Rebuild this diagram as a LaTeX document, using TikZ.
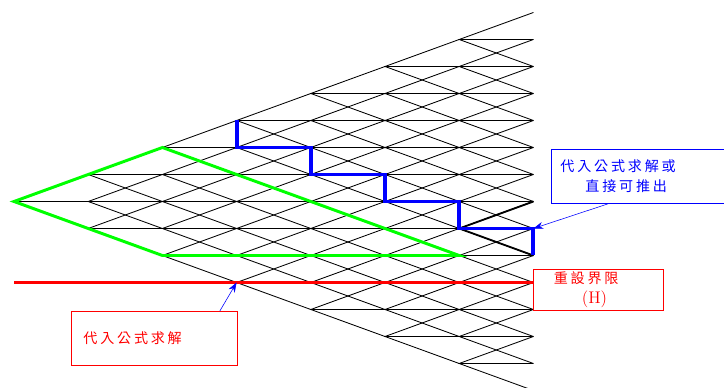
\documentclass[tikz,border=0pt]{standalone}
\usepackage{fontspec}
\newfontfamily\cjk[LetterSpace=20]{Noto Sans CJK TC}
\usetikzlibrary{arrows.meta}
\begin{document}
\begin{tikzpicture}[>={Stealth[length=7pt,width=5pt]}, x=1.855cm, y=0.675cm,
	tree/.style={line width=0.6pt},
	bold/.style={line width=1.3pt},
	region/.style={line width=2.1pt, green},
	limit/.style={line width=2.6pt, red},
	path/.style={line width=2.8pt, blue},
	note/.style={draw, line width=0.6pt, align=left, inner ysep=0pt, font=\cjk\fontsize{10}{14.2}\selectfont}]
	\useasboundingbox (-0.1887,-6.907) rectangle (9.5687,7.463);
	% lattice points
	\foreach \i in {0,...,7} {
		\pgfmathtruncatemacro\lo{7-\i}
		\pgfmathtruncatemacro\hi{7+\i}
		\foreach \r in {\lo,...,\hi}
			\coordinate (n\i-\r) at (\i,7-\r);
	}
	% up, middle and down branches
	\foreach \i in {0,...,6} {
		\pgfmathtruncatemacro\j{\i+1}
		\pgfmathtruncatemacro\lo{7-\i}
		\pgfmathtruncatemacro\hi{7+\i}
		\foreach \r in {\lo,...,\hi} {
			\pgfmathtruncatemacro\up{\r-1}
			\pgfmathtruncatemacro\dn{\r+1}
			\draw[tree] (n\j-\up) -- (n\i-\r) -- (n\j-\dn) (n\i-\r) -- (n\j-\r);
		}
	}
	\draw[region] (n0-7) -- (n2-5) -- (n6-9) -- (n2-9) -- cycle;
	\coordinate (h0) at (0,-3);
	\draw[limit] (h0) -- (n7-10);
	\draw[bold] (n7-7) -- (n6-8) -- (n7-9);
	\draw[path] (n3-4) -- (n3-5) -- (n4-5) -- (n4-6) -- (n5-6) -- (n5-7) -- (n6-7) -- (n6-8) -- (n7-8) -- (n7-9);
	% notes
	\node[note, blue, anchor=north west, inner xsep=0.225cm, text width=4.5cm, minimum height=1.35cm] (rule) at (7.237,1.944) {代入公式求解或\\\hspace*{0.625cm}直接可推出};
	\node[note, red, anchor=north west, inner xsep=0.5cm, text width=2.25cm, minimum height=1.025cm] (reset) at (7,-2.5) {重設界限\\\hspace*{0.7cm}{\rmfamily\fontsize{12}{14.2}\selectfont(H)}};
	\node[note, red, anchor=north west, inner xsep=0.3cm, text width=3.55cm, minimum height=1.35cm] (calc) at (0.768,-4.056) {代入公式求解};
	\draw[->, blue] ([xshift=1.425cm]rule.south west) -- (n7-8);
	\draw[->, blue] ([xshift=-0.45cm]calc.north east) -- (n3-10);
\end{tikzpicture}
\end{document}
